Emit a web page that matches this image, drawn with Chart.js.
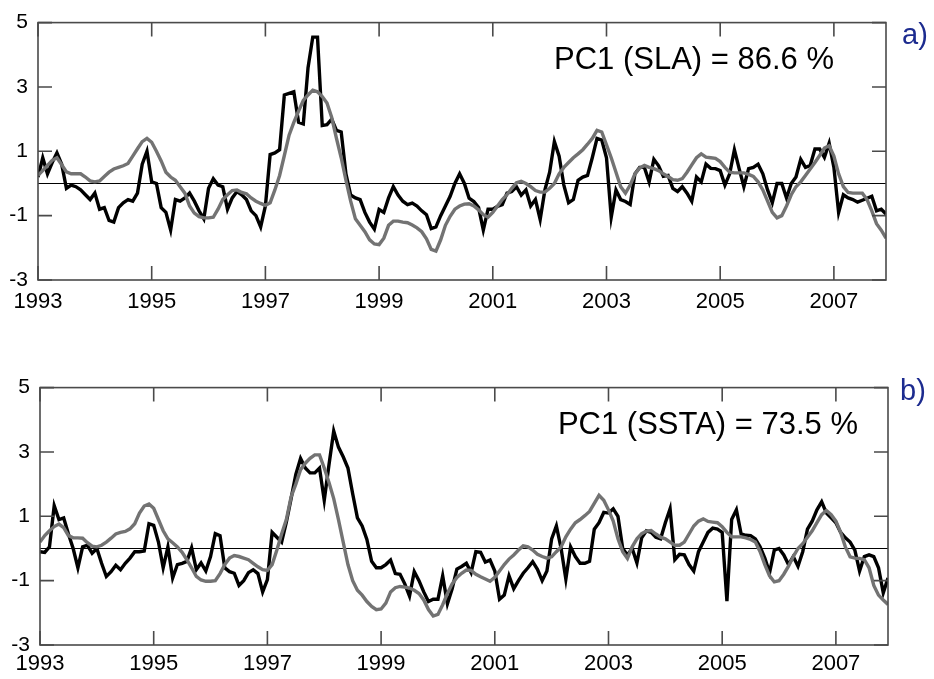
<!DOCTYPE html>
<html>
<head>
<meta charset="utf-8">
<script src="https://cdn.jsdelivr.net/npm/chart.js@4.4.1/dist/chart.umd.min.js"></script>
<style>
  html, body { margin: 0; padding: 0; background: #fff; }
  #wrap { position: relative; width: 934px; height: 679px; overflow: hidden; font-family: "Liberation Sans", Arial, sans-serif; }
  canvas { position: absolute; left: 0; }
  .note { position: absolute; line-height: 1; white-space: nowrap; color: #000; }
  .tag { position: absolute; line-height: 1; color: #1c2b8f; font-size: 29px; }
</style>
</head>
<body>
<div id="wrap">
  <canvas id="panelA" width="934" height="320" style="top:0"></canvas>
  <canvas id="panelB" width="934" height="320" style="top:365px"></canvas>
  <div class="note" style="right:100px; top:43px; font-size:31px">PC1 (SLA) = 86.6 %</div>
  <div class="note" style="right:76px; top:408px; font-size:31px">PC1 (SSTA) = 73.5 %</div>
  <div class="tag" style="left:902px; top:20px">a)</div>
  <div class="tag" style="left:900px; top:376px">b)</div>
</div>
<script>
// monthly series, Jan 1993 .. Dec 2007 (one row per year)
const startYear = 1993;
const yearTicks = [1993, 1995, 1997, 1999, 2001, 2003, 2005, 2007];
const valueTicks = [5, 3, 1, -1, -3];

// a) PC1 of SLA (black)
const slaPC = [
  0.2, 0.8, 0.3, 0.65, 0.95, 0.6, -0.15, -0.05, -0.1, -0.2, -0.35, -0.5,
  -0.3, -0.8, -0.75, -1.15, -1.2, -0.75, -0.6, -0.5, -0.55, -0.3, 0.6, 1.0,
  0.05, 0.0, -0.75, -0.9, -1.45, -0.5, -0.55, -0.45, -0.3, -0.55, -0.85, -1.1,
  -0.15, 0.15, -0.05, -0.1, -0.8, -0.45, -0.25, -0.35, -0.5, -0.85, -1.0, -1.35,
  -0.7, 0.9, 0.95, 1.05, 2.75, 2.8, 2.85, 1.9, 1.85, 3.6, 4.55, 4.55,
  1.8, 1.83, 2.0, 1.65, 1.6, 0.3, -0.36, -0.45, -0.5, -0.9, -1.2, -1.42,
  -0.81, -0.9, -0.45, -0.1, -0.36, -0.55, -0.66, -0.61, -0.7, -0.85, -0.97, -1.4,
  -1.35, -1.0, -0.7, -0.4, 0.0, 0.3, 0.0, -0.46, -0.56, -0.75, -1.45, -0.8,
  -0.8, -0.71, -0.66, -0.3, -0.25, -0.1, -0.36, -0.2, -0.7, -0.5, -1.12, -0.2,
  0.35, 1.3, 0.85, -0.05, -0.6, -0.5, 0.1, 0.2, 0.25, 0.8, 1.4, 1.35,
  0.8, -1.05, -0.2, -0.5, -0.56, -0.65, 0.3, 0.5, 0.5, 0.05, 0.75, 0.55,
  0.22, 0.25, -0.15, -0.25, -0.1, -0.3, -0.55, 0.2, 0.05, 0.6, 0.47, 0.46,
  0.4, -0.05, 0.3, 1.05, 0.46, -0.1, 0.46, 0.5, 0.6, 0.3, -0.2, -0.6,
  0.0, 0.0, -0.45, 0.0, 0.2, 0.75, 0.5, 0.56, 1.07, 1.07, 0.81, 1.25,
  0.5, -0.9, -0.35, -0.45, -0.5, -0.58, -0.52, -0.46, -0.4, -0.85, -0.8, -0.95
];

// a) smoothed index (grey)
const slaIndex = [
  0.25, 0.4, 0.56, 0.72, 0.8, 0.58, 0.36, 0.3, 0.3, 0.3, 0.2, 0.08,
  0.05, 0.08, 0.22, 0.35, 0.45, 0.5, 0.55, 0.62, 0.85, 1.08, 1.3, 1.4,
  1.28, 1.0, 0.7, 0.35, 0.2, 0.1, -0.1, -0.3, -0.7, -0.92, -1.03, -1.07,
  -1.07, -1.05, -0.8, -0.5, -0.35, -0.22, -0.2, -0.28, -0.32, -0.45, -0.55, -0.62,
  -0.68, -0.6, -0.2, 0.25, 0.87, 1.5, 1.9, 2.25, 2.58, 2.75, 2.9, 2.85,
  2.7, 2.5, 2.05, 1.4, 0.8, 0.1, -0.55, -1.1, -1.3, -1.5, -1.75, -1.88,
  -1.9, -1.7, -1.3, -1.17, -1.17, -1.2, -1.22, -1.29, -1.38, -1.5, -1.72, -2.05,
  -2.1, -1.75, -1.3, -1.02, -0.8, -0.7, -0.64, -0.63, -0.7, -0.82, -0.97, -1.05,
  -0.9, -0.7, -0.5, -0.35, -0.15, 0.02, 0.07, 0.0, -0.1, -0.22, -0.27, -0.27,
  -0.15, 0.0, 0.3, 0.5, 0.65, 0.8, 0.92, 1.05, 1.22, 1.4, 1.65, 1.6,
  1.2, 0.8, 0.35, -0.1, -0.3, -0.05, 0.3, 0.48, 0.56, 0.5, 0.46, 0.4,
  0.3, 0.22, 0.12, 0.1, 0.15, 0.35, 0.58, 0.8, 0.92, 0.82, 0.8, 0.78,
  0.68, 0.5, 0.35, 0.33, 0.33, 0.33, 0.28, 0.22, 0.05, -0.2, -0.55, -0.9,
  -1.07, -1.0, -0.7, -0.35, -0.1, 0.05, 0.25, 0.45, 0.65, 0.87, 1.1, 1.17,
  0.85, 0.3, -0.1, -0.28, -0.3, -0.3, -0.3, -0.5, -0.85, -1.25, -1.45, -1.7
];

// b) PC1 of SSTA (black)
const sstPC = [
  -0.1, -0.12, 0.05, 1.33, 0.9, 0.95, 0.45, 0.0, -0.6, 0.05, 0.1, -0.15,
  0.0, -0.46, -0.87, -0.72, -0.52, -0.66, -0.46, -0.3, -0.1, -0.1, -0.08, 0.77,
  0.72, 0.2, -0.6, 0.05, -0.92, -0.5, -0.46, -0.4, 0.02, -0.66, -0.45, -0.7,
  -0.25, 0.46, 0.4, -0.6, -0.72, -0.77, -1.15, -1.0, -0.75, -0.66, -0.78, -1.35,
  -0.97, 0.5, 0.35, 0.2, 0.82, 1.55, 2.3, 2.8, 2.5, 2.35, 2.35, 2.5,
  1.5, 2.6, 3.65, 3.15, 2.85, 2.5, 1.7, 0.95, 0.7, 0.28, -0.4, -0.6,
  -0.6, -0.5, -0.36, -0.78, -0.8, -1.1, -1.48, -0.72, -1.0, -1.35, -1.65, -1.58,
  -1.58, -0.85, -1.72, -1.25, -0.64, -0.56, -0.46, -0.75, -0.1, -0.12, -0.42, -0.36,
  -0.7, -1.58, -1.45, -0.85, -1.25, -1.0, -0.77, -0.6, -0.41, -0.65, -1.0, -0.7,
  0.3, 0.7, 0.0, -0.95, 0.05, -0.25, -0.46, -0.46, -0.4, 0.6, 0.8, 1.12,
  1.1, 1.23, 1.0, 0.0, -0.2, 0.0, -0.45, 0.33, 0.55, 0.5, 0.35, 0.3,
  0.8, 1.23, -0.35, -0.18, -0.2, -0.5, -0.7, -0.1, 0.2, 0.5, 0.63, 0.6,
  0.5, -1.64, 0.9, 1.2, 0.45, 0.41, 0.4, 0.3, 0.05, -0.3, -0.75, -0.05,
  0.0, -0.2, -0.5, -0.25, -0.55, -0.1, 0.6, 0.85, 1.2, 1.45, 1.1, 0.95,
  0.8, 0.5, 0.33, 0.2, -0.05, -0.7, -0.25, -0.2, -0.25, -0.6, -1.38, -0.92
];

// b) smoothed index (grey)
const sstIndex = [
  0.2, 0.4, 0.55, 0.68, 0.76, 0.65, 0.4, 0.33, 0.33, 0.32, 0.18, 0.07,
  0.05, 0.1, 0.2, 0.32, 0.45, 0.5, 0.53, 0.61, 0.77, 1.1, 1.32, 1.38,
  1.25, 0.9, 0.55, 0.3, 0.18, 0.05, -0.12, -0.35, -0.6, -0.87, -0.98, -1.02,
  -1.02, -1.0, -0.78, -0.5, -0.3, -0.22, -0.25, -0.3, -0.35, -0.46, -0.57, -0.66,
  -0.68, -0.5, -0.05, 0.45, 0.9, 1.6, 2.0, 2.45, 2.65, 2.8, 2.91, 2.91,
  2.5, 2.05, 1.55, 0.9, 0.2, -0.5, -1.0, -1.3, -1.45, -1.65, -1.8, -1.9,
  -1.88, -1.7, -1.35, -1.22, -1.18, -1.2, -1.23, -1.3, -1.4, -1.6, -1.9, -2.1,
  -2.05, -1.75, -1.4, -1.1, -0.9, -0.77, -0.67, -0.68, -0.8, -0.88, -0.95, -1.02,
  -0.9, -0.7, -0.5, -0.33, -0.2, -0.05, 0.08, 0.05, -0.05, -0.18, -0.25, -0.3,
  -0.26, -0.1, 0.05, 0.36, 0.6, 0.8, 0.9, 1.02, 1.15, 1.4, 1.65, 1.5,
  1.2, 0.85, 0.3, -0.1, -0.31, 0.05, 0.3, 0.46, 0.54, 0.56, 0.45, 0.35,
  0.3, 0.2, 0.1, 0.1, 0.2, 0.45, 0.7, 0.85, 0.92, 0.84, 0.82, 0.8,
  0.68, 0.5, 0.36, 0.36, 0.36, 0.33, 0.28, 0.2, -0.1, -0.5, -0.85, -1.04,
  -1.0, -0.8, -0.55, -0.25, 0.0, 0.15, 0.35, 0.55, 0.8, 1.05, 1.18, 1.05,
  0.85, 0.5, 0.05, -0.26, -0.3, -0.31, -0.35, -0.6, -1.15, -1.45, -1.6, -1.74
];

const FONT = "'Liberation Sans', Arial, sans-serif";
const FRAME = "#4a4a4a";

// monthly time axis in decimal years
const toPoints = arr => arr.map((v, i) => ({ x: startYear + i / 12, y: v }));

// box, inward ticks and the zero line, like the matlab axes
const boxPlugin = {
    id: "box",
    beforeDatasetsDraw(chart) {
        const { ctx, chartArea: a, scales } = chart;
        const y0 = Math.round(scales.y.getPixelForValue(0)) + 0.5;
        ctx.save();
        ctx.strokeStyle = "#000";
        ctx.lineWidth = 1;
        ctx.beginPath();
        ctx.moveTo(a.left, y0);
        ctx.lineTo(a.right, y0);
        ctx.stroke();
        ctx.restore();
    },
    afterDatasetsDraw(chart) {
        const { ctx, chartArea: a, scales } = chart;
        const len = 14;
        ctx.save();
        ctx.strokeStyle = FRAME;
        ctx.lineWidth = 1.6;
        ctx.strokeRect(a.left, a.top, a.right - a.left, a.bottom - a.top);
        ctx.beginPath();
        yearTicks.forEach(v => {
            const px = scales.x.getPixelForValue(v);
            ctx.moveTo(px, a.top); ctx.lineTo(px, a.top + len);
            ctx.moveTo(px, a.bottom); ctx.lineTo(px, a.bottom - len);
        });
        valueTicks.forEach(v => {
            const py = scales.y.getPixelForValue(v);
            ctx.moveTo(a.left, py); ctx.lineTo(a.left + len, py);
            ctx.moveTo(a.right, py); ctx.lineTo(a.right - len, py);
        });
        ctx.stroke();
        ctx.restore();
    }
};

function makePanel(id, pc, idx, pad, xPad) {
    const ctx = document.getElementById(id).getContext("2d");
    return new Chart(ctx, {
        type: "line",
        data: {
            datasets: [
                { data: toPoints(pc),  borderColor: "#000000", borderWidth: 3.4, pointRadius: 0, tension: 0, order: 2 },
                { data: toPoints(idx), borderColor: "#737373", borderWidth: 3.4, pointRadius: 0, tension: 0, order: 1 }
            ]
        },
        plugins: [boxPlugin],
        options: {
            responsive: false,
            animation: false,
            devicePixelRatio: 1,
            layout: { padding: pad },
            plugins: { legend: { display: false }, tooltip: { enabled: false } },
            scales: {
                x: {
                    type: "linear",
                    min: startYear,
                    max: startYear + (pc.length - 1) / 12,
                    afterBuildTicks: s => { s.ticks = yearTicks.map(v => ({ value: v })); },
                    afterFit: s => { s.height = 40; },
                    grid: { display: false, drawTicks: false },
                    border: { display: false },
                    ticks: { color: "#000", font: { family: FONT, size: 22 }, padding: xPad, maxRotation: 0, autoSkip: false, callback: v => String(v) }
                },
                y: {
                    min: -3,
                    max: 5,
                    afterBuildTicks: s => { s.ticks = valueTicks.map(v => ({ value: v })); },
                    afterFit: s => { s.width = 38; },
                    grid: { display: false, drawTicks: false },
                    border: { display: false },
                    ticks: { color: "#000", font: { family: FONT, size: 21 }, padding: 10, callback: v => String(v) }
                }
            }
        }
    });
}

makePanel("panelA", slaPC, slaIndex, { top: 18, right: 48, left: 0, bottom: 0 }, 9);
makePanel("panelB", sstPC, sstIndex, { top: 18, right: 46, left: 2, bottom: 0 }, 6);
</script>
</body>
</html>
